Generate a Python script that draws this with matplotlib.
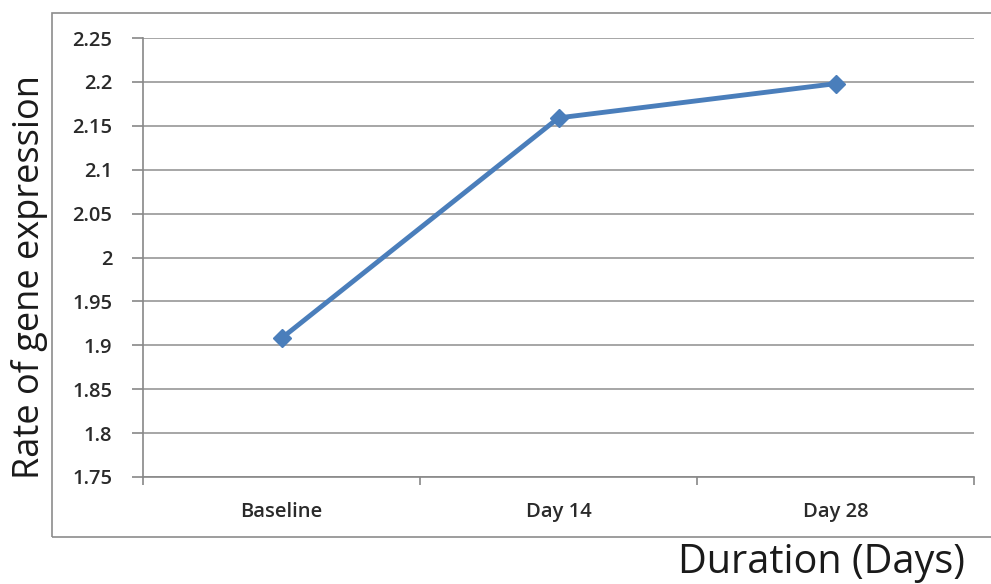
import matplotlib.pyplot as plt
from matplotlib.patches import Rectangle

# data
categories = ['Baseline', 'Day 14', 'Day 28']
expression = [1.908, 2.159, 2.198]
yticks = [1.75, 1.8, 1.85, 1.9, 1.95, 2.0, 2.05, 2.1, 2.15, 2.2, 2.25]
ytick_labels = ['1.75', '1.8', '1.85', '1.9', '1.95', '2', '2.05', '2.1', '2.15', '2.2', '2.25']

W, H = 991, 584
fig = plt.figure(figsize=(W / 100, H / 100), dpi=100)

# chart-area frame (Excel style)
fig.patches.append(Rectangle((52 / W, 1 - 537 / H), (995 - 52) / W, (537 - 13) / H,
                             transform=fig.transFigure, fill=False,
                             edgecolor='#8c8c8c', linewidth=1.2))

ax = fig.add_axes([143 / W, 1 - 477 / H, (974 - 143) / W, (477 - 38) / H])
x = list(range(len(categories)))
ax.plot(x, expression, color='#4a7ebb', linewidth=3.5, marker='D', markersize=9,
        markerfacecolor='#4a7ebb', markeredgecolor='#4a7ebb')

tick_font = dict(fontsize=14.5, family='Open Sans', color='#2a2a2a', fontweight='semibold')
ax.set_xlim(-0.5, len(categories) - 0.5)
ax.set_ylim(1.75, 2.25)
ax.set_yticks(yticks)
ax.set_yticklabels(ytick_labels, **tick_font)
ax.set_xticks(x)
ax.set_xticklabels(categories, **tick_font)
ax.tick_params(axis='x', length=0, pad=18)
ax.set_xticks([i - 0.5 for i in range(len(categories) + 1)], minor=True)
ax.tick_params(axis='x', which='minor', length=6, color='#888888', width=1.2)
ax.tick_params(axis='y', length=8, color='#888888', width=1.2, pad=14)

ax.grid(axis='y', color='#a6a6a6', linewidth=1.4)
ax.set_axisbelow(True)
for s in ['top', 'right']:
    ax.spines[s].set_visible(False)
ax.spines['left'].set_color('#888888')
ax.spines['bottom'].set_color('#888888')
ax.spines['left'].set_linewidth(1.2)
ax.spines['bottom'].set_linewidth(1.2)

fig.text(30 / W, 1 - 277 / H, 'Rate of gene expression', rotation=90,
         ha='center', va='center', fontsize=26, family='Open Sans', color='#1a1a1a')
fig.text(965 / W, 1 - 563 / H, 'Duration (Days)', ha='right', va='center',
         fontsize=28.5, family='Open Sans', color='#1a1a1a')

fig.savefig('out.png', dpi=100)
